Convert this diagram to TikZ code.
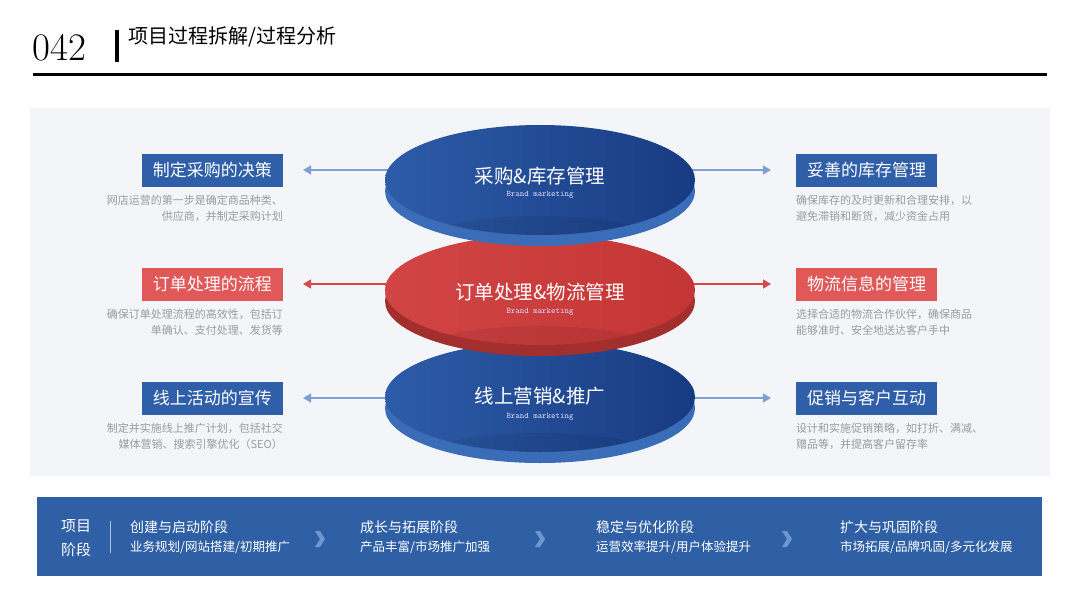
\documentclass[tikz,border=0pt]{standalone}
\usepackage{fontspec}
\newfontfamily\cjk{Noto Sans CJK SC}
\usetikzlibrary{arrows.meta,positioning,calc}

\definecolor{panel}{HTML}{F3F5F8}
\definecolor{boxblue}{HTML}{2F5FA8}
\definecolor{boxred}{HTML}{E05858}
\definecolor{descgray}{HTML}{9B9B9B}
\definecolor{arrowblue}{HTML}{7FA0D2}
\definecolor{arrowred}{HTML}{D44A4A}
\definecolor{faceblueL}{HTML}{2E5CA8}
\definecolor{faceblueR}{HTML}{173B82}
\definecolor{sideblue}{HTML}{3A6CB8}
\definecolor{faceredL}{HTML}{D24545}
\definecolor{faceredR}{HTML}{C43636}
\definecolor{sidered}{HTML}{A32E2E}
\definecolor{barblue}{HTML}{2F60A6}
\definecolor{chev}{HTML}{7096CE}

\tikzset{
  tagbox/.style={minimum width=141pt, minimum height=33pt, inner sep=0pt, text=white,
    font=\cjk\fontsize{17}{17}\selectfont},
  descl/.style={align=right, inner sep=0pt, text=descgray, font=\cjk\fontsize{11}{16}\selectfont},
  descr/.style={align=left, inner sep=0pt, text=descgray, font=\cjk\fontsize{11}{16}\selectfont},
  link/.style={line width=1.3pt, -{Triangle[length=8pt,width=9pt]}},
  disktitle/.style={inner sep=0pt, text=white, font=\cjk\fontsize{19.5}{20}\selectfont},
  brand/.style={inner sep=0pt, text=white!85!blue, font=\ttfamily\fontsize{8.5}{9}\selectfont},
  stagehead/.style={anchor=west, inner sep=0pt, text=white, font=\cjk\fontsize{14}{14}\selectfont},
  stagesub/.style={anchor=west, inner sep=0pt, text=white, font=\cjk\fontsize{12.5}{13}\selectfont},
}

\begin{document}
\begin{tikzpicture}[x=1pt,y=-1pt]
\useasboundingbox (0,0) rectangle (1080,608);

% Header
\node[anchor=base west, inner sep=0pt, font=\fontsize{39}{39}\selectfont] (num) at (32,60) {042};
\fill (115,30) rectangle (119,62);
\node[anchor=west, inner sep=0pt, font=\cjk\fontsize{20}{20}\selectfont] (title) at (128,37) {项目过程拆解/过程分析};
\draw[line width=3pt] (33,74) -- (1047,74);

% Panel
\fill[panel] (30,108) rectangle (1050,476);

% Disk centres
\coordinate (top) at (540,180);
\coordinate (mid) at (540,290);
\coordinate (bot) at (540,397);

% Tag boxes
\node[tagbox, fill=boxblue, anchor=east] (lt1) at (283,170) {制定采购的决策};
\node[tagbox, fill=boxblue, anchor=west] (rt1) at (796,170) {妥善的库存管理};
\node[tagbox, fill=boxred, anchor=east] (lt2) at (283,284) {订单处理的流程};
\node[tagbox, fill=boxred, anchor=west] (rt2) at (796,284) {物流信息的管理};
\node[tagbox, fill=boxblue, anchor=east] (lt3) at (283,398) {线上活动的宣传};
\node[tagbox, fill=boxblue, anchor=west] (rt3) at (796,398) {促销与客户互动};

% Descriptions
\node[descl, below left=8pt and 0pt of lt1.south east] (ld1) {网店运营的第一步是确定商品种类、\\供应商，并制定采购计划};
\node[descr, below right=8pt and 0pt of rt1.south west] (rd1) {确保库存的及时更新和合理安排，以\\避免滞销和断货，减少资金占用};
\node[descl, below left=8pt and 0pt of lt2.south east] (ld2) {确保订单处理流程的高效性，包括订\\单确认、支付处理、发货等};
\node[descr, below right=8pt and 0pt of rt2.south west] (rd2) {选择合适的物流合作伙伴，确保商品\\能够准时、安全地送达客户手中};
\node[descl, below left=8pt and 0pt of lt3.south east] (ld3) {制定并实施线上推广计划，包括社交\\媒体营销、搜索引擎优化（SEO）};
\node[descr, below right=8pt and 0pt of rt3.south west] (rd3) {设计和实施促销策略，如打折、满减、\\赠品等，并提高客户留存率};

% Arrows
\draw[link, arrowblue] (top |- lt1.east) -- ($(lt1.east)+(20,0)$);
\draw[link, arrowblue] (top |- rt1.west) -- ($(rt1.west)+(-25,0)$);
\draw[link, arrowred] (mid |- lt2.east) -- ($(lt2.east)+(20,0)$);
\draw[link, arrowred] (mid |- rt2.west) -- ($(rt2.west)+(-25,0)$);
\draw[link, arrowblue] (bot |- lt3.east) -- ($(lt3.east)+(20,0)$);
\draw[link, arrowblue] (bot |- rt3.west) -- ($(rt3.west)+(-25,0)$);

% Disks, bottom to top
\foreach \cy/\side/\lc/\rc in {397/sideblue/faceblueL/faceblueR, 290/sidered/faceredL/faceredR, 180/sideblue/faceblueL/faceblueR}{
  \fill[\side] (540,\cy+11) ellipse [x radius=155, y radius=55];
  \shade[left color=\lc, right color=\rc] (540,\cy) ellipse [x radius=155, y radius=55];
  \begin{scope}
    \clip (540,\cy) ellipse [x radius=155, y radius=55];
    \fill[black, opacity=0.07] (540,\cy+72) ellipse [x radius=140, y radius=36];
  \end{scope}
}

\node[disktitle] (dt1) at (540,176) {采购\&库存管理};
\node[brand] (db1) at (540,195) {Brand marketing};
\node[disktitle] (dt2) at (540,292) {订单处理\&物流管理};
\node[brand] (db2) at (540,312) {Brand marketing};
\node[disktitle] (dt3) at (540,396) {线上营销\&推广};
\node[brand] (db3) at (540,417) {Brand marketing};

% Stage bar
\fill[barblue] (37,497) rectangle (1042,576);
\node[align=center, inner sep=0pt, text=white, font=\cjk\fontsize{15}{24}\selectfont] (phase) at (76,538) {项目\\阶段};
\draw[white!60!barblue, line width=0.8pt] (110,521) -- (110,553);
\foreach \x/\h/\s [count=\i] in {130/{创建与启动阶段}/{业务规划/网站搭建/初期推广},
    360/{成长与拓展阶段}/{产品丰富/市场推广加强},
    596/{稳定与优化阶段}/{运营效率提升/用户体验提升},
    840/{扩大与巩固阶段}/{市场拓展/品牌巩固/多元化发展}}{
  \node[stagehead] (sh\i) at (\x,527) {\h};
  \node[stagesub] (ss\i) at (\x,547) {\s};
}
\foreach \cx in {320,540,787}
  \fill[chev] (\cx-5,531) -- (\cx,531) -- (\cx+5,539) -- (\cx,547) -- (\cx-5,547) -- (\cx,539) -- cycle;

\end{tikzpicture}
\end{document}
